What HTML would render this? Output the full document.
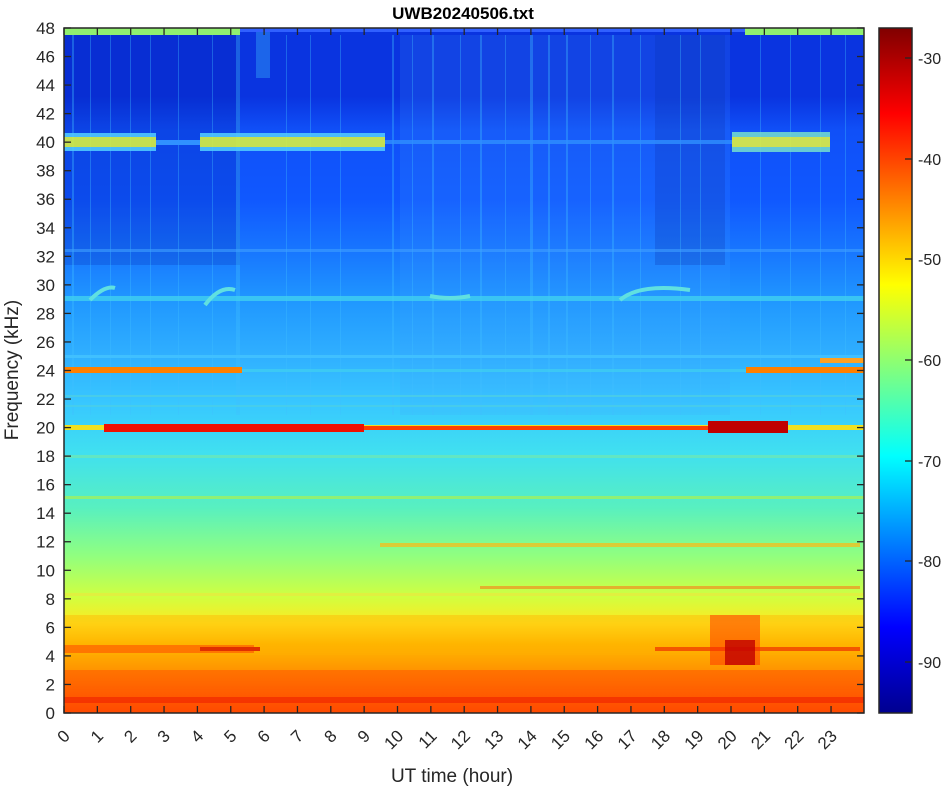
<!DOCTYPE html>
<html><head><meta charset="utf-8"><style>
body{margin:0;background:#fff;}
svg{display:block;font-family:"Liberation Sans",sans-serif;}
</style></head><body>
<svg width="948" height="786" viewBox="0 0 948 786" xmlns="http://www.w3.org/2000/svg">
<defs>
<linearGradient id="bg" x1="0" y1="0" x2="0" y2="1">
<stop offset="0" stop-color="#0a34e0"/>
<stop offset="0.10" stop-color="#0a34e0"/>
<stop offset="0.15" stop-color="#1050f8"/>
<stop offset="0.25" stop-color="#1058ff"/>
<stop offset="0.33" stop-color="#1878ff"/>
<stop offset="0.40" stop-color="#2098ff"/>
<stop offset="0.48" stop-color="#30b0ff"/>
<stop offset="0.55" stop-color="#38c8ff"/>
<stop offset="0.62" stop-color="#40e0f0"/>
<stop offset="0.70" stop-color="#58f0c0"/>
<stop offset="0.77" stop-color="#90ff80"/>
<stop offset="0.83" stop-color="#d0ff40"/>
<stop offset="0.87" stop-color="#ffe820"/>
<stop offset="0.90" stop-color="#ffb800"/>
<stop offset="0.95" stop-color="#ff8800"/>
<stop offset="1" stop-color="#ff5000"/>
</linearGradient>
<linearGradient id="jet" x1="0" y1="1" x2="0" y2="0">
<stop offset="0" stop-color="#00008f"/>
<stop offset="0.125" stop-color="#0000ff"/>
<stop offset="0.375" stop-color="#00ffff"/>
<stop offset="0.625" stop-color="#ffff00"/>
<stop offset="0.875" stop-color="#ff0000"/>
<stop offset="1" stop-color="#800000"/>
</linearGradient>
</defs>
<text x="463" y="19" font-size="17" font-weight="bold" text-anchor="middle" fill="#000">UWB20240506.txt</text>
<rect x="64" y="28" width="800" height="685" fill="url(#bg)"/>
<rect x="64" y="35" width="176" height="230" fill="#001aa0" opacity="0.2"/>
<rect x="655" y="35" width="70" height="230" fill="#001aa0" opacity="0.25"/>
<rect x="400" y="35" width="330" height="380" fill="#40a0ff" opacity="0.15"/>
<g fill="#40c0ff" opacity="0.35">
<rect x="72" y="35" width="2" height="380"/><rect x="90" y="35" width="1" height="380"/><rect x="110" y="35" width="1" height="380"/>
<rect x="130" y="35" width="1" height="380"/><rect x="150" y="35" width="1" height="380"/><rect x="178" y="35" width="1" height="380"/>
<rect x="212" y="35" width="1" height="380"/><rect x="236" y="35" width="4" height="380"/><rect x="256" y="28" width="14" height="50"/>
<rect x="286" y="35" width="1" height="380"/><rect x="310" y="35" width="1" height="380"/><rect x="340" y="35" width="1" height="380"/>
<rect x="392" y="35" width="2" height="380"/><rect x="412" y="35" width="1" height="380"/><rect x="432" y="35" width="2" height="380"/>
<rect x="460" y="35" width="1" height="380"/><rect x="480" y="35" width="2" height="380"/><rect x="505" y="35" width="1" height="380"/>
<rect x="530" y="35" width="3" height="380"/><rect x="548" y="35" width="2" height="380"/><rect x="566" y="35" width="2" height="380"/>
<rect x="590" y="35" width="1" height="380"/><rect x="612" y="35" width="2" height="380"/><rect x="640" y="35" width="1" height="380"/>
<rect x="680" y="35" width="1" height="380"/><rect x="700" y="35" width="1" height="380"/><rect x="760" y="35" width="1" height="380"/>
<rect x="790" y="35" width="1" height="380"/><rect x="820" y="35" width="1" height="380"/><rect x="845" y="35" width="1" height="380"/>
</g>
<rect x="64" y="28" width="176" height="7" fill="#90f070"/>
<rect x="745" y="28" width="119" height="7" fill="#90f070"/>
<rect x="240" y="28" width="505" height="4" fill="#3060ff"/>
<g opacity="0.9">
<rect x="64" y="133" width="92" height="18" fill="#50c8ff"/><rect x="200" y="133" width="185" height="18" fill="#50c8ff"/>
<rect x="64" y="137" width="92" height="10" fill="#d8f040"/><rect x="200" y="137" width="185" height="10" fill="#d8f040"/>
<rect x="732" y="132" width="98" height="20" fill="#70d8d0"/><rect x="732" y="137" width="98" height="10" fill="#e0f040"/>
</g>
<rect x="156" y="140" width="44" height="5" fill="#3090ff"/>
<rect x="385" y="140" width="347" height="4" fill="#3090ff" opacity="0.8"/>
<rect x="64" y="249" width="800" height="3" fill="#40a0ff" opacity="0.6"/>
<rect x="64" y="296" width="800" height="5" fill="#40d0f0" opacity="0.8"/>
<path d="M90 300 Q105 285 115 288 M205 305 Q220 285 235 290 M620 300 Q640 283 690 290 M430 296 Q450 300 470 296" stroke="#60e0e0" stroke-width="4" fill="none"/>
<rect x="64" y="355" width="800" height="3" fill="#40c0ff"/>
<rect x="64" y="367" width="178" height="6" fill="#ff8000"/>
<rect x="746" y="367" width="118" height="6" fill="#ff8000"/>
<rect x="820" y="358" width="44" height="5" fill="#ffa020"/>
<rect x="242" y="369" width="504" height="3" fill="#40d0f0" opacity="0.7"/>
<rect x="64" y="395" width="800" height="2" fill="#50d0e0" opacity="0.7"/>
<rect x="64" y="405" width="800" height="2" fill="#50d0e0" opacity="0.6"/>
<rect x="64" y="425" width="800" height="5" fill="#f0e020"/>
<rect x="104" y="424" width="260" height="8" fill="#f01000"/>
<rect x="364" y="426" width="344" height="4" fill="#ff4000"/>
<rect x="708" y="421" width="80" height="12" fill="#c00000"/>
<rect x="64" y="455" width="800" height="3" fill="#70e8b0" opacity="0.7"/>
<rect x="64" y="496" width="800" height="3" fill="#a0f060" opacity="0.8"/>
<rect x="380" y="543" width="480" height="4" fill="#f0c020" opacity="0.8"/>
<rect x="64" y="593" width="800" height="3" fill="#e0f040"/>
<rect x="480" y="586" width="380" height="3" fill="#f09020" opacity="0.7"/>
<rect x="64" y="615" width="800" height="40" fill="#ffb000" opacity="0.4"/>
<rect x="64" y="645" width="190" height="8" fill="#ff5000" opacity="0.6"/>
<rect x="200" y="647" width="60" height="4" fill="#e03000"/>
<rect x="655" y="647" width="205" height="4" fill="#f04000" opacity="0.8"/>
<rect x="710" y="615" width="50" height="50" fill="#ff3000" opacity="0.5"/>
<rect x="725" y="640" width="30" height="25" fill="#c00000" opacity="0.8"/>
<rect x="64" y="670" width="800" height="43" fill="#ff4000" opacity="0.4"/>
<rect x="64" y="697" width="800" height="6" fill="#ee2000" opacity="0.6"/>
<rect x="64" y="28" width="800" height="685" fill="none" stroke="#262626" stroke-width="1.5"/>
<g id="ticks" stroke="#262626" stroke-width="1.3"></g>
<g font-size="17" fill="#262626" text-anchor="end" id="ylab"></g>
<g font-size="17" fill="#262626" id="xlab"></g>
<text x="452" y="782" font-size="19" text-anchor="middle" fill="#262626">UT time (hour)</text>
<text transform="translate(18,370) rotate(-90)" font-size="19" text-anchor="middle" fill="#262626">Frequency (kHz)</text>
<rect x="879" y="28" width="33" height="685" fill="url(#jet)" stroke="#262626" stroke-width="1.5"/>
<g stroke="#262626" stroke-width="1.3">
<line x1="905" y1="58" x2="912" y2="58"/><line x1="905" y1="159" x2="912" y2="159"/><line x1="905" y1="259" x2="912" y2="259"/>
<line x1="905" y1="360" x2="912" y2="360"/><line x1="905" y1="461" x2="912" y2="461"/><line x1="905" y1="561" x2="912" y2="561"/><line x1="905" y1="662" x2="912" y2="662"/>
</g>
<g font-size="16" fill="#262626">
<text x="918" y="64">-30</text><text x="918" y="165">-40</text><text x="918" y="265">-50</text>
<text x="918" y="366">-60</text><text x="918" y="467">-70</text><text x="918" y="567">-80</text><text x="918" y="668">-90</text>
</g>
<script>
var t=document.getElementById('ticks'),yl=document.getElementById('ylab'),xl=document.getElementById('xlab'),ns='http://www.w3.org/2000/svg';
function el(n,a,p,txt){var e=document.createElementNS(ns,n);for(var k in a)e.setAttribute(k,a[k]);if(txt!=null)e.textContent=txt;p.appendChild(e);}
for(var f=0;f<=48;f+=2){var y=713-f*14.271;el('line',{x1:64,y1:y,x2:71,y2:y},t);el('line',{x1:857,y1:y,x2:864,y2:y},t);el('text',{x:55,y:y+6},yl,f);}
for(var h=0;h<=23;h++){var x=64+h*33.35;el('line',{x1:x,y1:713,x2:x,y2:706},t);el('line',{x1:x,y1:28,x2:x,y2:35},t);
el('text',{x:x+7,y:737,'text-anchor':'end',transform:'rotate(-45 '+(x+7)+' 737)'},xl,h);}
</script>
</svg>
</body></html>
